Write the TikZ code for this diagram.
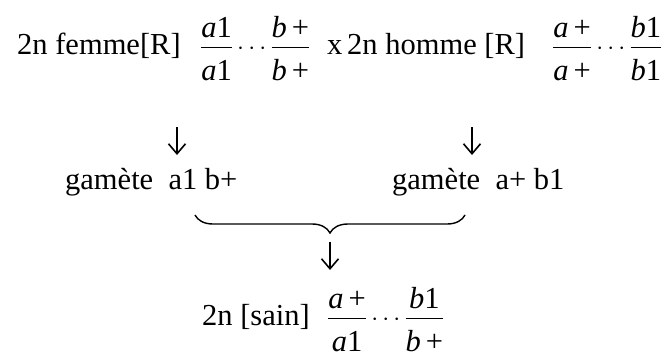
\documentclass[tikz,border=0pt]{standalone}
\usepackage{amsmath}
\usepackage{fontspec}
\setmainfont{Liberation Serif}
\usetikzlibrary{arrows.meta,decorations.pathreplacing}
\newcommand{\allele}[2]{\dfrac{\text{#1}}{\rule{0pt}{29pt}\text{#2}}}
\newcommand{\geno}[4]{$\allele{#1}{#2}\cdots\allele{#3}{#4}$}

\begin{document}
\begin{tikzpicture}[x=1pt,y=-1pt,
 every node/.style={inner sep=0pt,font=\fontsize{30.5}{36}\selectfont},
 txt/.style={anchor=base west},
 arrow/.style={-{Straight Barb[length=10pt,width=17pt]},line width=1.6pt},
 accolade/.style={decorate,decoration={brace,mirror,amplitude=18pt},line width=1.4pt}]
 \useasboundingbox (0,0) rectangle (667,351);
 % parents
 \node[txt] (femme) at (17,54) {2n femme[R]};
 \node[txt] (femmeg) at (200,54) {\geno{\textit{a}1}{\textit{a}1}{\textit{b}\,+}{\textit{b}\,+}};
 \node[txt] (croix) at (327,54) {x};
 \node[txt] (homme) at (347,54) {2n homme [R]};
 \node[txt] (hommeg) at (552,54) {\geno{\textit{a}\,+}{\textit{a}\,+}{\textit{b}1}{\textit{b}1}};
 % gametes
 \node[txt] (gam1) at (65,189) {gamète~~a1 b+};
 \node[txt] (gam2) at (392,189) {gamète~~a+ b1};
 % child
 \node[txt] (sain) at (202,325) {2n [sain]};
 \node[txt] (saing) at (327,325) {\geno{\textit{a}\,+}{\textit{a}1}{\textit{b}1}{\textit{b}\,+}};
 \coordinate (f1) at (177,127);
 \coordinate (f2) at (177,155);
 \coordinate (h1) at (472,127);
 \coordinate (h2) at (472,155);
 \coordinate (bl) at (195,215);
 \coordinate (br) at (465,215);
 \coordinate (b1) at (330,242);
 \coordinate (b2) at (330,270);
 \draw[arrow] (f1)--(f2);
 \draw[arrow] (h1)--(h2);
 \draw[accolade] (bl)--(br);
 \draw[arrow] (b1)--(b2);
\end{tikzpicture}
\end{document}
